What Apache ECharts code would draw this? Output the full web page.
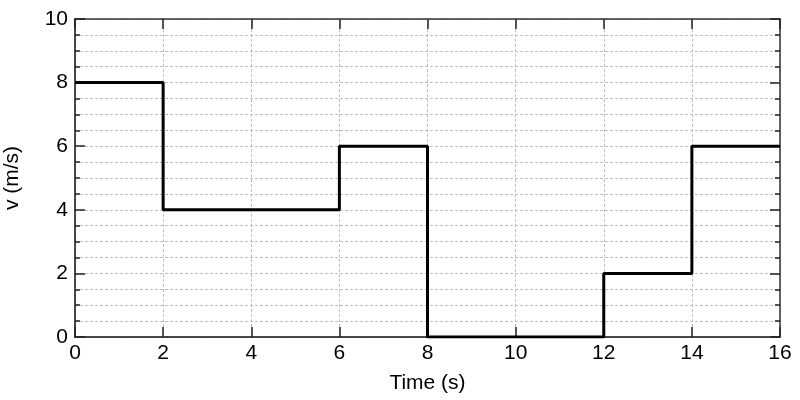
<!DOCTYPE html>
<html>
<head>
<meta charset="utf-8">
<script src="https://cdn.jsdelivr.net/npm/echarts@6/dist/echarts.min.js"></script>
<style>html,body{margin:0;padding:0;background:#fff}#c{width:800px;height:400px}</style>
</head>
<body>
<div id="c"></div>
<script>
var times = [0, 2, 6, 8, 12, 14, 16];
var velocities = [8, 4, 6, 0, 2, 6, 6];
var xTicks = [0, 2, 4, 6, 8, 10, 12, 14, 16];
var yTicks = [0, 2, 4, 6, 8, 10];

var FONT = '"Liberation Sans", Arial, Helvetica, sans-serif';
var gridLine = {show: true, lineStyle: {color: '#c0c0c0', width: 1, type: [3, 2]}};
function axisBase(extra) {
  var o = {
    axisLine: {show: true, onZero: false, lineStyle: {color: '#111', width: 1.5}},
    axisTick: {show: true, inside: true, length: 10, lineStyle: {color: '#222', width: 1.5}},
    minorTick: {show: false},
    splitLine: {show: false},
    axisLabel: {show: false}
  };
  for (var k in extra) o[k] = extra[k];
  return o;
}

var chart = echarts.init(document.getElementById('c'), null, {renderer: 'canvas'});
chart.setOption({
  animation: false,
  grid: {left: 75, right: 20, top: 19, bottom: 63, containLabel: false, outerBoundsMode: 'none'},
  xAxis: [
    axisBase({
      type: 'value', min: xTicks[0], max: xTicks[xTicks.length - 1], interval: 2, position: 'bottom',
      name: 'Time (s)', nameLocation: 'middle', nameGap: 36,
      nameTextStyle: {fontFamily: FONT, fontSize: 21, color: '#000'},
      axisLabel: {show: true, fontFamily: FONT, fontSize: 21, color: '#000', margin: 6},
      splitLine: gridLine
    }),
    axisBase({
      type: 'value', min: xTicks[0], max: xTicks[xTicks.length - 1], interval: 2, position: 'top',
      axisLine: {show: true, onZero: false, lineStyle: {color: '#333', width: 1.5}}
    })
  ],
  yAxis: [
    axisBase({
      type: 'value', min: yTicks[0], max: yTicks[yTicks.length - 1], interval: 2, position: 'left',
      name: 'v (m/s)', nameLocation: 'middle', nameGap: 52,
      nameTextStyle: {fontFamily: FONT, fontSize: 21, color: '#000'},
      axisLabel: {show: true, fontFamily: FONT, fontSize: 21, color: '#000', margin: 7},
      minorTick: {show: true, splitNumber: 4, length: 5, lineStyle: {color: '#222', width: 1.5}},
      splitLine: gridLine,
      minorSplitLine: gridLine
    }),
    axisBase({
      type: 'value', min: yTicks[0], max: yTicks[yTicks.length - 1], interval: 2, position: 'right',
      axisLine: {show: true, onZero: false, lineStyle: {color: '#333', width: 1.5}},
      minorTick: {show: true, splitNumber: 4, length: 5, lineStyle: {color: '#222', width: 1.5}}
    })
  ],
  series: [{
    type: 'line',
    step: 'end',
    data: times.map(function (t, i) { return [t, velocities[i]]; }),
    showSymbol: false,
    symbol: 'none',
    lineStyle: {color: '#000', width: 3},
    z: 5
  }]
});
</script>
</body>
</html>
